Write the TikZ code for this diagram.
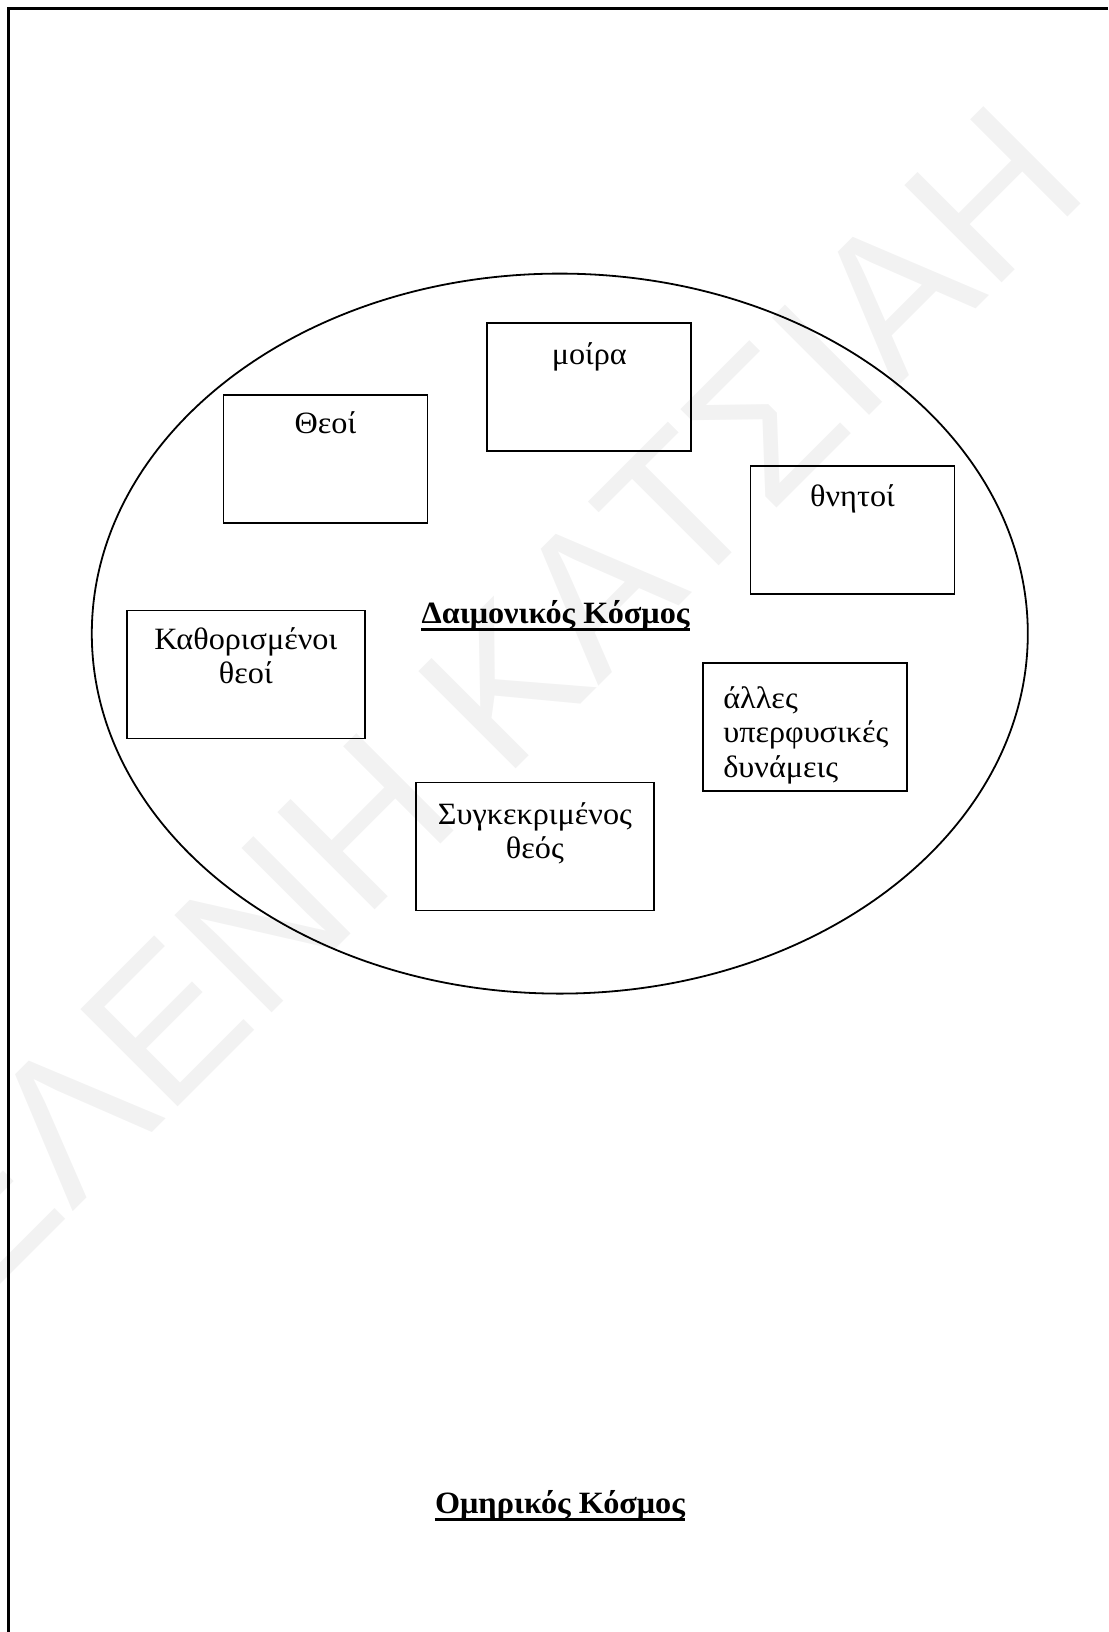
\documentclass[tikz,border=0pt]{standalone}
\usepackage{fontspec}
\setmainfont{Liberation Serif}[FakeStretch=1.04]
\newfontfamily\wmfont{Liberation Sans}
\usetikzlibrary{positioning}
\begin{document}
\begin{tikzpicture}[x=1pt,y=-1pt,
  godbox/.style={draw,line width=1.8pt,minimum width=204pt,minimum height=128pt,inner sep=0pt},
  widebox/.style={godbox,minimum width=238pt},
  boxtext/.style={anchor=north,inner sep=0pt,align=center,font=\fontsize{31}{34.5}\selectfont},
  worldtitle/.style={anchor=base,inner sep=0pt,font=\fontsize{31}{34.5}\selectfont\bfseries}]
\useasboundingbox (0,0) rectangle (1108,1632);
%\fill[white] (0,0) rectangle (1108,1632);
\node[rotate=45,anchor=base,inner sep=0pt,text=black!5,font=\fontsize{200}{200}\selectfont\wmfont] (mark) at (535,750) {ΕΛΕΝΗ ΚΑΤΣΙΑΗ};
\draw[line width=2.5pt] (8.5,1632) -- (8.5,8.5) -- (1108,8.5);
\draw[line width=1.8pt] (559.8,633.6) ellipse [x radius=468,y radius=360];
% the boxes
\node[godbox] (theoi) at (325.4,458.8) {};
\node[godbox] (moira) at (589.3,386.9) {};
\node[godbox] (thnitoi) at (852.5,530.2) {};
\node[widebox] (kathor) at (245.8,674.5) {};
\node[widebox] (sygkek) at (534.9,846.4) {};
\node[godbox] (alles) at (805,727.2) {};
\node[boxtext] at ([yshift=-17.5pt]theoi.north) {Θεοί};
\node[boxtext] at ([yshift=-20.5pt]moira.north) {μοίρα};
\node[boxtext] at ([yshift=-19pt]thnitoi.north) {θνητοί};
\node[boxtext] at ([yshift=-17.5pt]kathor.north) {Καθορισμένοι\\θεοί};
\node[boxtext] at ([yshift=-20.5pt]sygkek.north) {Συγκεκριμένος\\θεός};
\node[boxtext,anchor=north west,align=left] at ([xshift=21pt,yshift=-24pt]alles.north west) {άλλες\\υπερφυσικές\\δυνάμεις};
% titles
\node[worldtitle] (daimon) at (555.5,623.3) {Δαιμονικός Κόσμος};
\draw[line width=2.7pt] ([yshift=-6.5pt]daimon.base west) -- ([yshift=-6.5pt]daimon.base east);
\node[worldtitle] (omir) at (560,1513.3) {Ομηρικός Κόσμος};
\draw[line width=2.7pt] ([yshift=-6pt]omir.base west) -- ([yshift=-6pt]omir.base east);
\end{tikzpicture}
\end{document}
